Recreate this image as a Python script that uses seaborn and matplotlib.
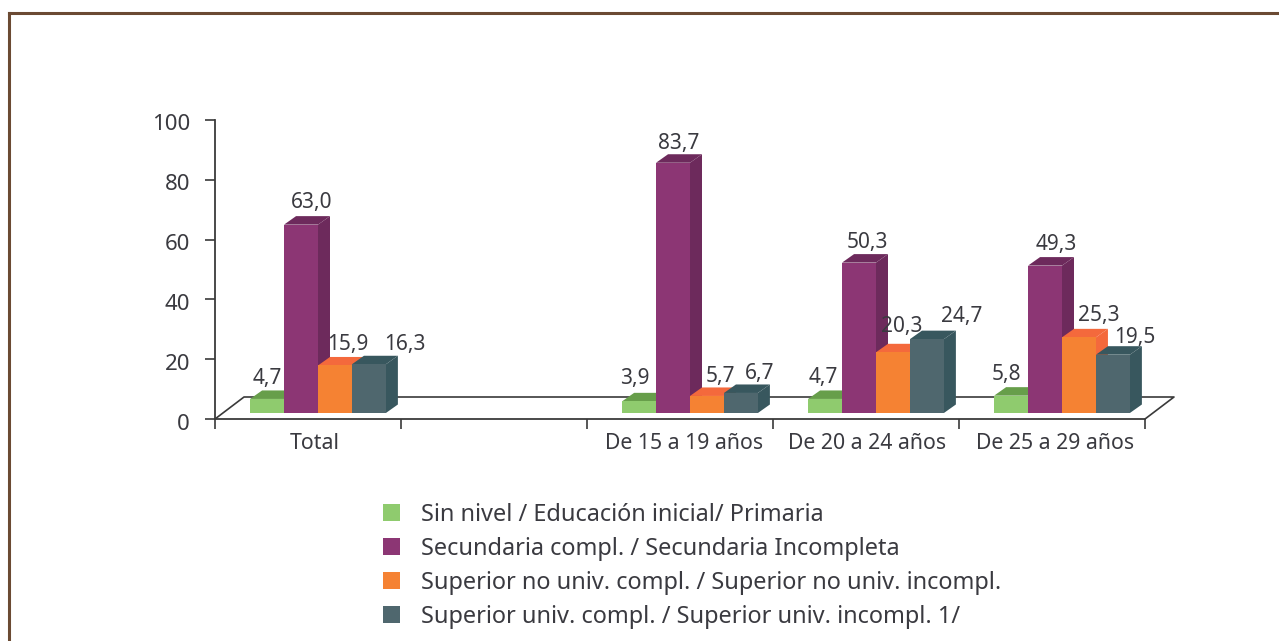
import matplotlib

matplotlib.use("Agg")
import matplotlib.pyplot as plt
import pandas as pd
import seaborn as sns
from matplotlib.lines import Line2D
from matplotlib.patches import Polygon
from matplotlib.transforms import Affine2D

W, H = 1279, 641

categories = ["Total", "", "De 15 a 19 años", "De 20 a 24 años", "De 25 a 29 años"]
filled = ["Total", "De 15 a 19 años", "De 20 a 24 años", "De 25 a 29 años"]
sin_nivel = [4.7, 3.9, 4.7, 5.8]
secundaria = [63.0, 83.7, 50.3, 49.3]
superior_no_univ = [15.9, 5.7, 20.3, 25.3]
superior_univ = [16.3, 6.7, 24.7, 19.5]
levels = [
    "Sin nivel / Educación inicial/ Primaria",
    "Secundaria compl. / Secundaria Incompleta",
    "Superior no univ. compl. / Superior no univ. incompl.",
    "Superior univ. compl. / Superior univ. incompl. 1/",
]
y_ticks = [0, 20, 40, 60, 80, 100]

front_colors = ["#8FCB6E", "#8C3674", "#F58233", "#4F676E"]
top_colors = ["#679E4A", "#6D2A5C", "#F4693C", "#38575E"]

# hand placed label offsets in pixels, from the front top centre of each bar
label_offsets = [
    [(0, 10), (-4, 12), (-2, 11), (-5, 11)],
    [(11, 12), (6, 9), (8, 10), (11, 11)],
    [(13, 10), (13, 9), (9, 15), (20, 11)],
    [(36, 9), (19, 9), (35, 12), (22, 7)],
]
# group labels do not sit exactly in the middle of their slot
x_label_nudge = [7, 0, 4, 1, 3]

TEXT = "#3A3A40"
sns.set_style("white")
plt.rcParams["font.family"] = ["Noto Sans", "DejaVu Sans"]

rows = []
for name, vals in zip(levels, [sin_nivel, secundaria, superior_no_univ, superior_univ]):
    for cat, v in zip(filled, vals):
        rows.append({"cat": cat, "level": name, "value": v})
df = pd.DataFrame(rows)

fig = plt.figure(figsize=(W / 100, H / 100), dpi=100)
ax = fig.add_axes([215 / W, 1 - 419 / H, 930 / W, 299 / H])

px_y = 100 / 299
px_x = 5 / 930
lift = 6 * px_y
shift = 10 * px_x
depth_x, depth_y = 12 * px_x, 8.5 * px_y

sns.barplot(
    data=df, x="cat", y="value", hue="level", order=categories, hue_order=levels,
    palette=front_colors, saturation=1, width=0.73, bottom=lift, ax=ax, legend=False,
)
ax.set_xlim(-0.5, 4.5)
ax.set_ylim(0, 100)

for i, container in enumerate(ax.containers):
    for j, bar in enumerate(container.patches):
        bar.set_x(bar.get_x() + shift)
        bar.set_linewidth(0)
        bar.set_zorder(5 + i * 2)
        x0, w, h = bar.get_x(), bar.get_width(), bar.get_height()
        y1 = lift + h
        top = [(x0, y1), (x0 + w, y1), (x0 + w + depth_x, y1 + depth_y), (x0 + depth_x, y1 + depth_y)]
        side = [(x0 + w, lift), (x0 + w + depth_x, lift + depth_y), (x0 + w + depth_x, y1 + depth_y), (x0 + w, y1)]
        for pts in (top, side):
            ax.add_patch(Polygon(pts, closed=True, fc=top_colors[i], lw=0, zorder=4 + i * 2))
        ax.annotate(
            f"{h:.1f}".replace(".", ","), (x0 + w / 2, y1), xytext=label_offsets[i][j],
            textcoords="offset pixels", ha="center", va="bottom", fontsize=15, color=TEXT,
            zorder=20, annotation_clip=False,
        )

# floor of the fake 3d box
floor_x, floor_y = 29 * px_x, 22 * px_y
ax.plot([-0.5, -0.5 + floor_x, 4.5 + floor_x, 4.5], [0, floor_y, floor_y, 0],
        color="#3A3A3A", lw=1.2, clip_on=False, zorder=1)

sns.despine(ax=ax)
for s in ("left", "bottom"):
    ax.spines[s].set_color("#3A3A3A")
    ax.spines[s].set_linewidth(1.3)
ax.set_xlabel("")
ax.set_ylabel("")
ax.set_yticks(y_ticks)
ax.set_xticks([i + n * px_x for i, n in enumerate(x_label_nudge)], categories)
ax.set_xticks([i - 0.5 for i in range(len(categories) + 1)], minor=True)
ax.tick_params(axis="x", which="major", length=0, pad=10, labelsize=15.3, labelcolor=TEXT)
ax.tick_params(axis="x", which="minor", length=7, width=1.2, color="#3A3A3A", bottom=True)
ax.tick_params(axis="y", length=7, width=1.2, color="#3A3A3A", left=True, pad=11, labelsize=16, labelcolor=TEXT)
for label in ax.get_yticklabels():
    label.set_transform(label.get_transform() + Affine2D().translate(0, -2.5))

handles = [plt.Rectangle((0, 0), 1, 1, fc=c, lw=0) for c in front_colors]
fig.legend(
    handles, levels, loc="upper left", bbox_to_anchor=(383 / W, 1 - 503 / H), frameon=False,
    borderaxespad=0, borderpad=0, fontsize=16.95, labelcolor=TEXT, handlelength=0.72,
    handleheight=0.72, handletextpad=0.88, labelspacing=0.42,
)

# brown page frame
frame = "#6B4A33"
fig.add_artist(Line2D([8.5 / W, 8.5 / W], [0, 1 - 13 / H], color=frame, lw=2.2, solid_capstyle="projecting"))
fig.add_artist(Line2D([8.5 / W, 1], [1 - 13 / H, 1 - 13 / H], color=frame, lw=2.2, solid_capstyle="projecting"))

fig.savefig("out.png", dpi=100)
plt.close(fig)
